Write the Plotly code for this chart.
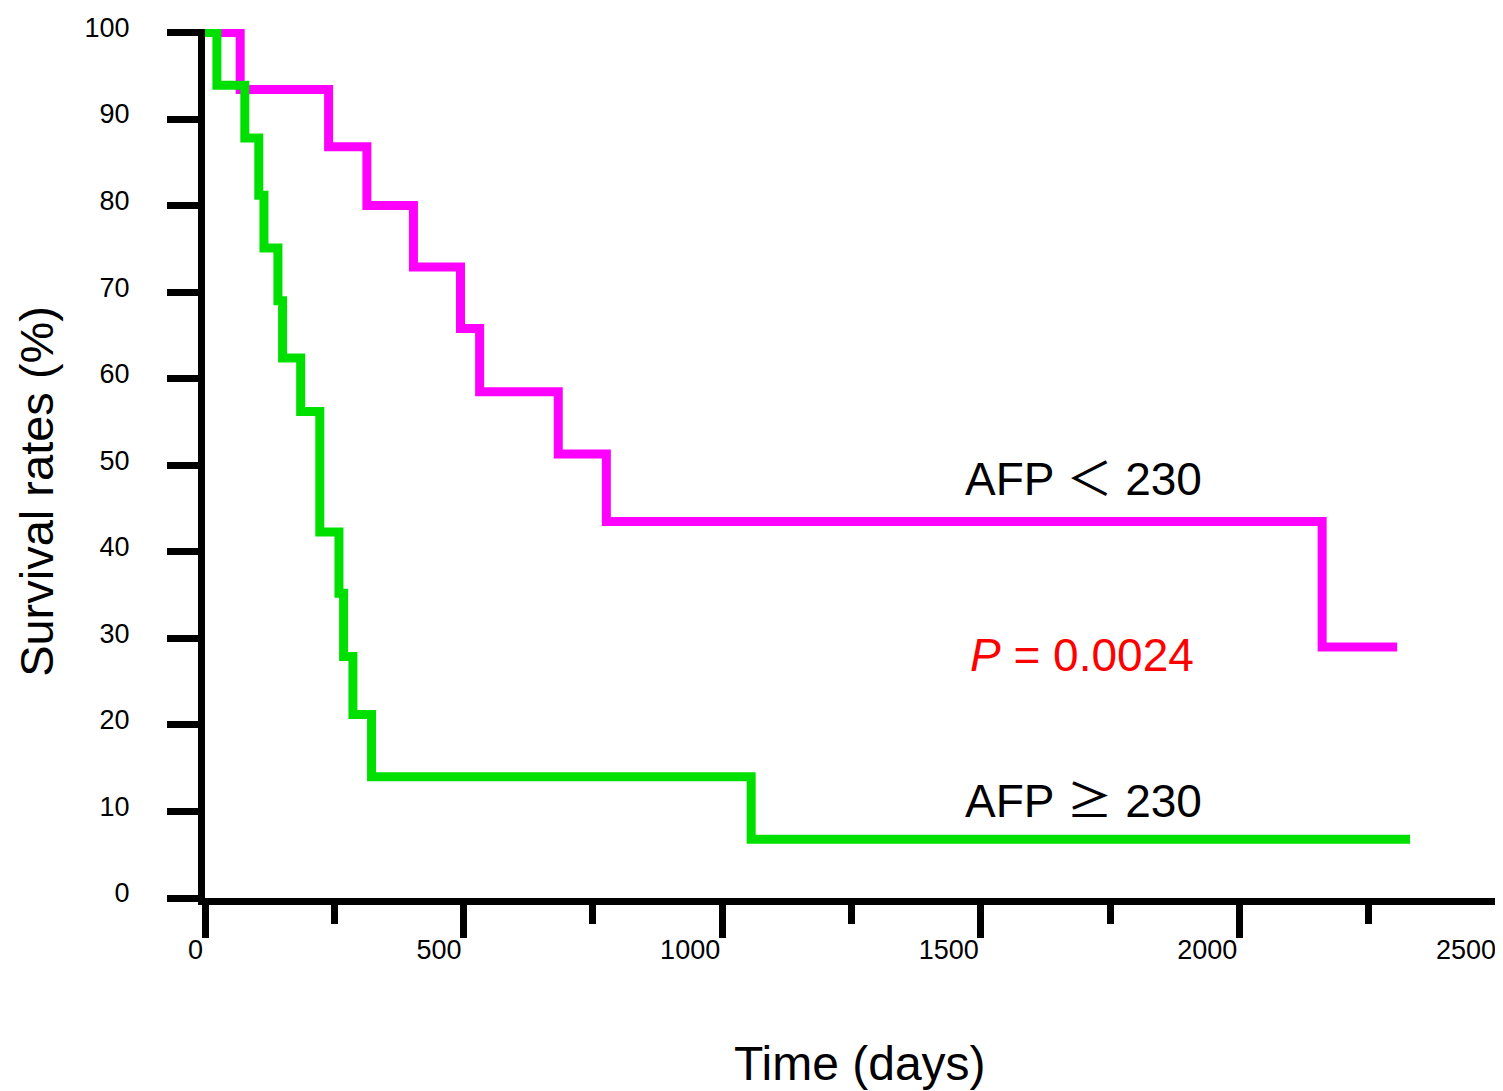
import plotly.graph_objects as go

# Kaplan-Meier style survival data
low_days = [0, 68, 239, 313, 403, 494, 531, 683, 776, 2160, 2305]
low_surv = [100, 93.4, 86.8, 80.0, 72.9, 65.8, 58.5, 51.3, 43.5, 29.0, 29.0]

high_days = [0, 23, 77, 104, 114, 141, 150, 185, 222, 259, 268, 286, 322, 1056, 2330]
high_surv = [100, 93.9, 87.8, 81.2, 75.1, 69.0, 62.4, 56.2, 42.3, 35.2, 27.9, 21.2, 14.0, 6.8, 6.8]

x_ticks = [0, 500, 1000, 1500, 2000, 2500]
y_ticks = [0, 10, 20, 30, 40, 50, 60, 70, 80, 90, 100]

FONT = "Liberation Sans, Arial, Noto Sans CJK JP, sans-serif"

# the page body has an 8px margin; compensate so the plot lands where the reference has it
W, H = 1495, 1083
L, R, T, B = 197, 5, 17, 193
plot_w = W - L - R
plot_h = H - T - B
PX0, PY0 = L + 8, H - B + 8  # page pixel of plot-area left / bottom

def px(xp):
    return (xp - PX0) / plot_w

def py(yp):
    return (PY0 - yp) / plot_h

fig = go.Figure()
fig.add_trace(go.Scatter(x=low_days, y=low_surv, mode="lines", line_shape="hv",
                         line=dict(color="#FF00FF", width=9), showlegend=False))
fig.add_trace(go.Scatter(x=high_days, y=high_surv, mode="lines", line_shape="hv",
                         line=dict(color="#00E000", width=9), showlegend=False))

fig.update_layout(
    width=W, height=H,
    margin=dict(l=L, r=R, t=T, b=B),
    paper_bgcolor="white", plot_bgcolor="white",
    font=dict(family=FONT, color="black"),
    xaxis=dict(range=[0, 2500], tickvals=x_ticks, ticktext=[str(v) for v in x_ticks],
               showgrid=False, zeroline=False, showline=True, linecolor="black", linewidth=7,
               ticks="outside", ticklen=33, tickwidth=7, tickcolor="black",
               ticklabelposition="outside left", ticklabelstandoff=22, ticklabelshift=5,
               minor=dict(dtick=250, tick0=0, ticks="outside", ticklen=19, tickwidth=7, tickcolor="black"),
               tickfont=dict(size=27, family=FONT)),
    yaxis=dict(range=[0, 100.4], tickvals=y_ticks, ticktext=[str(v) for v in y_ticks],
               showgrid=False, zeroline=False, showline=True, linecolor="black", linewidth=7,
               ticks="outside", ticklen=31, tickwidth=7, tickcolor="black",
               ticklabelstandoff=32, ticklabelshift=-5,
               tickfont=dict(size=27, family=FONT)),
)

fig.add_annotation(x=1465, y=48.4, xref="x", yref="y", text="AFP ＜ 230", showarrow=False,
                   xanchor="left", yanchor="middle", font=dict(size=46, color="black", family=FONT))
fig.add_annotation(x=1475, y=28.1, xref="x", yref="y", text="<i>P</i> = 0.0024", showarrow=False,
                   xanchor="left", yanchor="middle", font=dict(size=46, color="#FF0000", family=FONT))
fig.add_annotation(x=1465, y=11.7, xref="x", yref="y",
                   text="AFP <span style='font-family:Noto Sans CJK JP'>≥</span> 230", showarrow=False,
                   xanchor="left", yanchor="middle", font=dict(size=46, color="black", family=FONT))

fig.add_annotation(x=px(860), y=py(1064), xref="paper", yref="paper", text="Time (days)",
                   showarrow=False, xanchor="center", yanchor="middle",
                   font=dict(size=48, color="black", family=FONT))
fig.add_annotation(x=px(37), y=py(490), xref="paper", yref="paper", text="Survival rates (%)",
                   textangle=-90, showarrow=False, xanchor="center", yanchor="middle",
                   font=dict(size=47, color="black", family=FONT))

fig.write_html("out.html")
